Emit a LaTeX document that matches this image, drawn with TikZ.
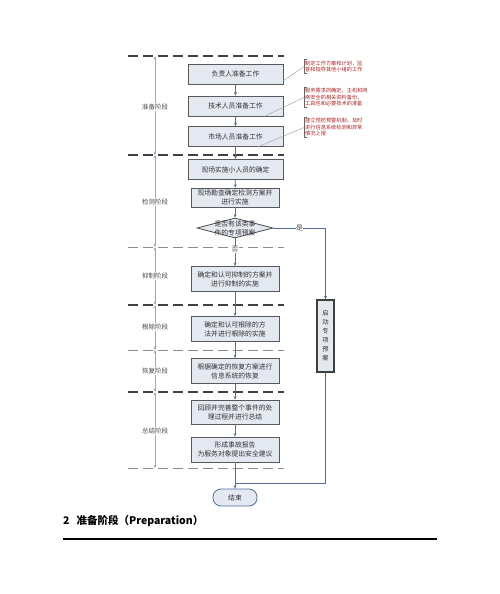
\documentclass[tikz,border=0pt]{standalone}
\usepackage{fontspec}
\setmainfont{Noto Sans CJK SC}
\usepackage{tikz}
\usetikzlibrary{arrows.meta, positioning, shapes.geometric, calc}
\definecolor{flowblue}{HTML}{4F6F9F}
\definecolor{boxfill}{HTML}{E3E8F1}
\definecolor{stagegray}{HTML}{9AA8C4}
\definecolor{notered}{HTML}{B02020}

\begin{document}
\begin{tikzpicture}[x=1pt, y=-1pt, >={Stealth[length=3.5pt, width=3pt]},
    font=\fontsize{6.8}{9}\selectfont,
    stepbox/.style={draw=black!65, line width=0.8pt, fill=boxfill, text=black!80,
        minimum width=88pt, minimum height=25pt, align=center, inner sep=1pt},
    prepbox/.style={stepbox, minimum width=95pt, minimum height=20pt},
    flow/.style={->, flowblue, line width=0.7pt},
    flowline/.style={flowblue, line width=0.7pt},
    stagearrow/.style={<->, stagegray, line width=0.7pt},
    stagelabel/.style={fill=white, text=black!70, inner sep=1pt, font=\fontsize{6.5}{8}\selectfont},
    border/.style={dash pattern=on 10pt off 5pt, line width=1.4pt, black!75},
    thinborder/.style={dash pattern=on 10pt off 5pt, line width=0.7pt, black!45},
    note/.style={text=notered, font=\fontsize{5.2}{6.5}\selectfont, align=left, inner sep=1pt, anchor=west},
    notelink/.style={black!35, line width=0.5pt}]
    \useasboundingbox (0,0) rectangle (500,594);

    % Stage borders
    \foreach \y/\s [count=\i from 0] in {56/border, 155/border, 247/thinborder, 305/border, 350/thinborder, 392/border, 468/thinborder} {
        \draw[\s] (128,\y) -- (284,\y);
        \coordinate (sep\i) at (155,\y);
    }
    \foreach \i/\j in {0/1, 1/2, 2/3, 3/4, 4/5, 5/6}
        \draw[stagearrow] (sep\i) -- (sep\j);

    % Stage labels
    \node[stagelabel] (prep) at (155,107) {准备阶段};
    \node[stagelabel] (detect) at (155,202) {检测阶段};
    \node[stagelabel] (contain) at (155,276) {抑制阶段};
    \node[stagelabel] (eradicate) at (155,327) {根除阶段};
    \node[stagelabel] (recover) at (155,371) {恢复阶段};
    \node[stagelabel] (summary) at (155,431) {总结阶段};

    % Preparation boxes
    \node[prepbox] (lead) at (235.5,74) {负责人准备工作};
    \node[prepbox] (tech) at (235.5,106) {技术人员准备工作};
    \node[prepbox] (market) at (235.5,136.5) {市场人员准备工作};
    \node[prepbox] (team) at (235.5,169.5) {现场实施小人员的确定};

    % Detection
    \node[stepbox, minimum height=19pt] (survey) at (235,197.5) {现场勘查确定检测方案并\\进行实施};
    \node[diamond, draw=black!70, line width=0.8pt, fill=boxfill, minimum width=76pt, minimum height=20pt,
        inner sep=0pt, label={[text=black!80, align=center]center:是否有该类事\\件的专项预案}] (plan) at (235,228) {};

    % Remaining stages
    \node[stepbox] (containbox) at (235,279) {确定和认可抑制的方案并\\进行抑制的实施};
    \node[stepbox] (eradbox) at (235,329) {确定和认可根除的方\\法并进行根除的实施};
    \node[stepbox] (recbox) at (235,371) {根据确定的恢复方案进行\\信息系统的恢复};
    \node[stepbox, minimum height=24pt] (review) at (235,412) {回顾并完善整个事件的处\\理过程并进行总结};
    \node[stepbox] (report) at (235,449.5) {形成事故报告\\为服务对象提出安全建议};
    \node[draw=flowblue, line width=0.8pt, fill=boxfill, rounded corners=8pt, text=black!80,
        minimum width=44pt, minimum height=17pt, inner sep=1pt] (finish) at (235,497.5) {结束};

    % Special plan
    \node[draw=black!75, line width=1.2pt, fill=boxfill, text=black!80, minimum width=17pt, minimum height=72pt,
        align=center, inner sep=0pt, font=\fontsize{6.3}{9}\selectfont] (special) at (325.5,336) {启\\动\\专\\项\\预\\案};
    \coordinate (join) at (235,483);

    % Main flow
    \draw[flow] (lead) -- (tech);
    \draw[flow] (tech) -- (market);
    \draw[flow] (market) -- (team);
    \draw[flow] (team) -- (survey);
    \draw[flow] (survey) -- (plan);
    \draw[flow] (plan) -- node[pos=0.4, fill=white, inner sep=0.5pt, text=black!70] {否} (containbox);
    \draw[flow] (containbox) -- (eradbox);
    \draw[flow] (eradbox) -- (recbox);
    \draw[flow] (recbox) -- (review);
    \draw[flow] (review) -- (report);
    \draw[flow] (report) -- (finish);
    \draw[flow] (plan.east) -- node[fill=white, inner sep=0.5pt, text=black!70] {是} (plan.east -| special.north) -- (special.north);
    \draw[flowline] (special.south) |- (join);

    % Notes
    \node[note] (note1) at (304,66.5) {制定工作方案和计划，监\\督和指导其他小组的工作};
    \node[note] (note2) at (304,97.5) {服务需求的确定，主机和网\\络安全的相关资料备份，\\工具包和必要技术的准备};
    \node[note] (note3) at (304,127.5) {建立预防预警机制，及时\\进行信息系统检测和异常\\情况上报};
    \foreach \n in {note1, note2, note3}
        \draw[black!60, line width=0.5pt] ([xshift=3pt]\n.north west) -- (\n.north west) -- (\n.south west) -- ([xshift=3pt]\n.south west);
    \draw[notelink] (lead.-8) -- (note1.west);
    \draw[notelink] (tech.-20) -- (note2.west);
    \draw[notelink] (market.-25) -- (note3.west);

    % Section heading
    \node[anchor=west, inner sep=0pt, font=\fontsize{10.5}{12}\selectfont\bfseries] (heading) at (63,521) {2\hspace{7pt}准备阶段（Preparation）};
    \draw[line width=2.8pt] (63,539) -- (437,539);
\end{tikzpicture}
\end{document}
